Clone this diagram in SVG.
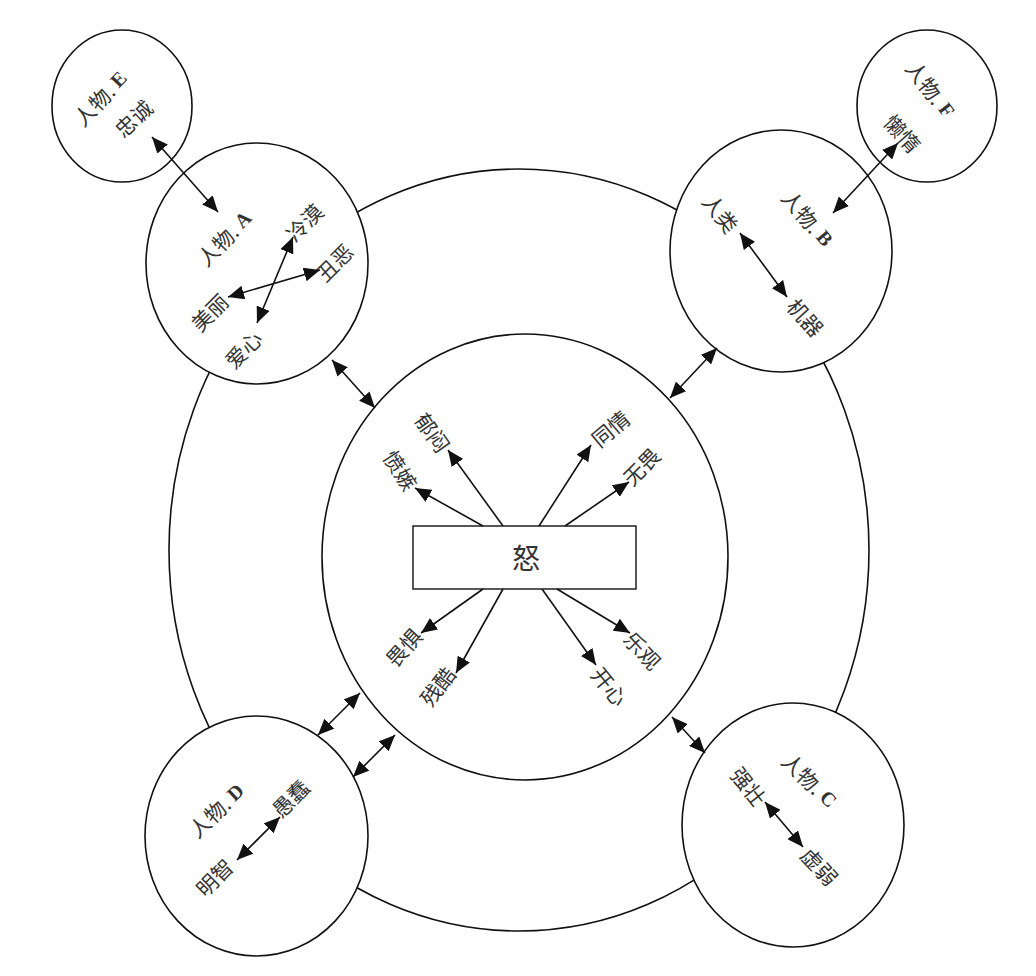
<svg xmlns="http://www.w3.org/2000/svg" width="1036" height="976" viewBox="0 0 1036 976">
<style>
.ring{fill:none;stroke:#111;stroke-width:1.6}
.node{fill:#fff;stroke:#111;stroke-width:1.6}
.small{fill:none;stroke:#111;stroke-width:1.6}
.lbl{font-family:"Noto Sans CJK SC","Liberation Sans",sans-serif;font-size:21px;fill:#333;text-anchor:middle;dominant-baseline:central}
.ltr{font-family:"Liberation Serif",serif;font-weight:bold;font-size:20px}
.c{stroke:#111;stroke-width:1.6;fill:none}
.bi{marker-start:url(#ah);marker-end:url(#ah)}
.one{marker-end:url(#ah)}
</style>
<defs>
<marker id="ah" viewBox="0 0 16 14" refX="16" refY="7" markerWidth="16" markerHeight="14" markerUnits="userSpaceOnUse" orient="auto-start-reverse">
<path d="M0,0 L16,7 L0,14 z" fill="#111"/>
</marker>
</defs>
<rect width="1036" height="976" fill="#fff"/>
<g id="outer"><ellipse class="ring" cx="519" cy="550" rx="350" ry="381"/></g>
<g id="inner"><ellipse class="node" cx="525" cy="557" rx="203" ry="223"/></g>
<g id="center">
<rect x="413" y="526" width="223" height="63" fill="#fff" stroke="#111" stroke-width="1.4"/>
<text class="lbl" x="526" y="557" style="font-size:28px">怒</text>
</g>
<g id="nodeA">
<ellipse class="node" cx="257" cy="263.5" rx="111" ry="120.5"/>
<text class="lbl" transform="rotate(-45 224 238)" x="224" y="238">人物. <tspan class="ltr">A</tspan></text>
<text class="lbl" transform="rotate(-45 304 222)" x="304" y="222">冷漠</text>
<text class="lbl" transform="rotate(-45 334 262)" x="334" y="262">丑恶</text>
<text class="lbl" transform="rotate(-45 209 312)" x="209" y="312">美丽</text>
<text class="lbl" transform="rotate(-45 243 349)" x="243" y="349">爱心</text>
</g>
<g id="nodeB">
<ellipse class="node" cx="781" cy="251" rx="111" ry="121"/>
<text class="lbl" transform="rotate(50 808 218)" x="808" y="218">人物. <tspan class="ltr">B</tspan></text>
<text class="lbl" transform="rotate(52 721 213)" x="721" y="213">人类</text>
<text class="lbl" transform="rotate(48 806 317)" x="806" y="317">机器</text>
</g>
<g id="nodeD">
<ellipse class="node" cx="256.5" cy="836" rx="111.5" ry="120"/>
<text class="lbl" transform="rotate(-43 216 810)" x="216" y="810">人物. <tspan class="ltr">D</tspan></text>
<text class="lbl" transform="rotate(-45 290 798)" x="290" y="798">愚蠢</text>
<text class="lbl" transform="rotate(-45 214 877)" x="214" y="877">明智</text>
</g>
<g id="nodeC">
<ellipse class="node" cx="793" cy="825" rx="111" ry="122"/>
<text class="lbl" transform="rotate(45 810 780)" x="810" y="780">人物. <tspan class="ltr">C</tspan></text>
<text class="lbl" transform="rotate(52 749 786)" x="749" y="786">强壮</text>
<text class="lbl" transform="rotate(47 820 866)" x="820" y="866">虚弱</text>
</g>
<g id="nodeE">
<ellipse class="small" cx="122" cy="106" rx="70" ry="76"/>
<text class="lbl" transform="rotate(-46 100 98)" x="100" y="98">人物. <tspan class="ltr">E</tspan></text>
<text class="lbl" transform="rotate(-43 133 118)" x="133" y="118">忠诚</text>
</g>
<g id="nodeF">
<ellipse class="small" cx="927" cy="106" rx="70" ry="76"/>
<text class="lbl" transform="rotate(53 931 89)" x="931" y="89">人物. <tspan class="ltr">F</tspan></text>
<text class="lbl" transform="rotate(48 903 133)" x="903" y="133">懒惰</text>
</g>
<g id="emotions">
<text class="lbl" transform="rotate(55 433 432)" x="433" y="432">郁闷</text>
<text class="lbl" transform="rotate(57 401 470)" x="401" y="470">愤嫉</text>
<text class="lbl" transform="rotate(-40 610 428)" x="610" y="428">同情</text>
<text class="lbl" transform="rotate(-45 641 466)" x="641" y="466">无畏</text>
<text class="lbl" transform="rotate(-48 403 647)" x="403" y="647">畏惧</text>
<text class="lbl" transform="rotate(-52 437 686)" x="437" y="686">残酷</text>
<text class="lbl" transform="rotate(47 643 650)" x="643" y="650">乐观</text>
<text class="lbl" transform="rotate(51 610 686)" x="610" y="686">开心</text>
</g>
<g id="connectors">
<line class="c one" x1="483" y1="526" x2="415" y2="488"/>
<line class="c one" x1="503" y1="526" x2="448" y2="450"/>
<line class="c one" x1="539" y1="526" x2="591" y2="445"/>
<line class="c one" x1="565" y1="526" x2="629" y2="482"/>
<line class="c one" x1="483" y1="589" x2="421" y2="633"/>
<line class="c one" x1="503" y1="589" x2="456" y2="673"/>
<line class="c one" x1="542" y1="589" x2="596" y2="665"/>
<line class="c one" x1="557" y1="589" x2="630" y2="633"/>
<line class="c bi" x1="152" y1="137" x2="218" y2="212"/>
<line class="c bi" x1="228" y1="297" x2="320" y2="270"/>
<line class="c bi" x1="293" y1="237" x2="257" y2="323"/>
<line class="c bi" x1="332" y1="360" x2="375" y2="408"/>
<line class="c bi" x1="898" y1="143" x2="833" y2="213"/>
<line class="c bi" x1="740" y1="233" x2="787" y2="297"/>
<line class="c bi" x1="717" y1="348" x2="670" y2="398"/>
<line class="c bi" x1="318" y1="735" x2="360" y2="693"/>
<line class="c bi" x1="353" y1="777" x2="395" y2="735"/>
<line class="c bi" x1="237" y1="860" x2="280" y2="817"/>
<line class="c bi" x1="672" y1="717" x2="705" y2="753"/>
<line class="c bi" x1="765" y1="802" x2="803" y2="847"/>
</g>
</svg>
